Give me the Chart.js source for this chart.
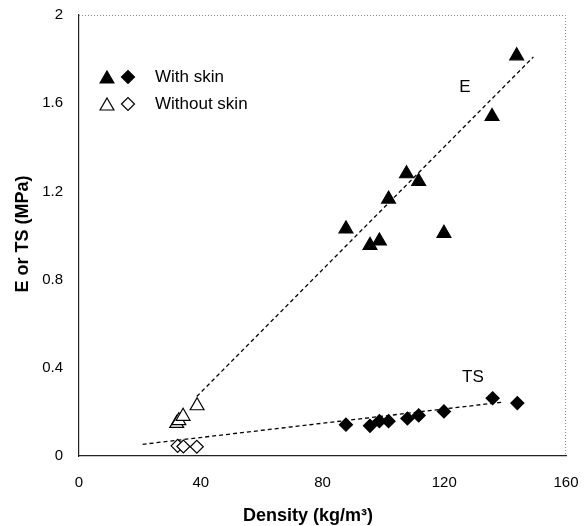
<!DOCTYPE html>
<html>
<head>
<meta charset="utf-8">
<script src="https://cdn.jsdelivr.net/npm/chart.js@4.4.1/dist/chart.umd.min.js"></script>
<style>
  html, body { margin: 0; padding: 0; background: #fff; }
  #wrap { width: 585px; height: 526px; }
</style>
</head>
<body>
<div id="wrap"><canvas id="densityChart" width="585" height="526"></canvas></div>
<script>
/* --- Data --- */
// E (modulus), with skin
const eSkinX = [87.7, 95.6, 98.7, 101.7, 107.6, 111.6, 119.9, 135.7, 143.8];
const eSkinY = [1.03, 0.955, 0.975, 1.165, 1.28, 1.245, 1.01, 1.54, 1.815];
// E, without skin
const eBareX = [32.1, 32.8, 34.2, 38.8];
const eBareY = [0.148, 0.16, 0.18, 0.228];
// TS (tensile strength), with skin
const tsSkinX = [87.7, 95.6, 98.7, 101.7, 107.9, 111.6, 119.9, 135.9, 144.0];
const tsSkinY = [0.142, 0.137, 0.158, 0.158, 0.17, 0.184, 0.202, 0.262, 0.24];
// TS, without skin
const tsBareX = [32.4, 34.3, 38.7];
const tsBareY = [0.046, 0.043, 0.042];
// dashed fit lines (end points)
const eFitX = [38.7, 149.3];
const eFitY = [0.27, 1.81];
const tsFitX = [20.9, 139.6];
const tsFitY = [0.053, 0.245];

const xTicks = [0, 40, 80, 120, 160];
const yTicks = [0, 0.4, 0.8, 1.2, 1.6, 2];

const xTitle = 'Density (kg/m\u00B3)';
const yTitle = 'E or TS (MPa)';
const legendRows = ['With skin', 'Without skin'];
const curveLabels = ['E', 'TS'];
const curveLabelX = [126.8, 129.4];
const curveLabelY = [1.673, 0.358];

const FONT = "'Liberation Sans', Arial, sans-serif";

function pts(xs, ys) {
    return xs.map((x, i) => ({ x: x, y: ys[i] }));
}

/* --- Decorations: frame, titles, legend, curve labels --- */
const decorPlugin = {
    id: 'decor',
    beforeDatasetsDraw(chart) {
        const { ctx, chartArea: a } = chart;
        ctx.save();
        // light dotted top / right edge of the frame
        ctx.strokeStyle = '#8a8a8a';
        ctx.lineWidth = 1;
        ctx.setLineDash([1, 2]);
        ctx.beginPath();
        ctx.moveTo(a.left, a.top + 0.5);
        ctx.lineTo(a.right - 0.5, a.top + 0.5);
        ctx.lineTo(a.right - 0.5, a.bottom);
        ctx.stroke();
        ctx.restore();
    },
    afterDraw(chart) {
        const { ctx, chartArea: a, scales } = chart;
        ctx.save();
        ctx.fillStyle = '#000';

        // axis titles
        ctx.font = 'bold 18px ' + FONT;
        ctx.textAlign = 'center';
        ctx.textBaseline = 'alphabetic';
        ctx.fillText(xTitle, 308, 521);
        ctx.save();
        ctx.translate(28, 234);
        ctx.rotate(-Math.PI / 2);
        ctx.fillText(yTitle, 0, 0);
        ctx.restore();

        // curve labels
        ctx.font = '17px ' + FONT;
        ctx.textBaseline = 'middle';
        curveLabels.forEach((t, i) => {
            ctx.fillText(t, scales.x.getPixelForValue(curveLabelX[i]),
                            scales.y.getPixelForValue(curveLabelY[i]));
        });

        // legend
        const rowY = [a.top + 62, a.top + 89];
        const triX = a.left + 28, diaX = a.left + 49, txtX = a.left + 76;
        const open = [false, true];
        rowY.forEach((y, i) => {
            ctx.lineWidth = 1.2;
            ctx.strokeStyle = '#000';
            ctx.fillStyle = open[i] ? '#fff' : '#000';
            Chart.helpers.drawPoint(ctx, { pointStyle: 'triangle', radius: 8, borderWidth: 1.2 }, triX, y + 2);
            ctx.fillStyle = open[i] ? '#fff' : '#000';
            Chart.helpers.drawPoint(ctx, { pointStyle: 'rectRot', radius: 6.5, borderWidth: 1.2 }, diaX, y);
            ctx.fillStyle = '#000';
            ctx.font = '17px ' + FONT;
            ctx.textAlign = 'left';
            ctx.textBaseline = 'middle';
            ctx.fillText(legendRows[i], txtX, y);
        });
        ctx.restore();
    }
};

const markerFilled = { backgroundColor: '#000', borderColor: '#000', borderWidth: 1.2 };
const markerOpen = { backgroundColor: '#fff', borderColor: '#000', borderWidth: 1.2 };

new Chart(document.getElementById('densityChart'), {
    type: 'scatter',
    data: {
        datasets: [
            {   // fit lines first so markers sit on top
                label: 'E fit', data: pts(eFitX, eFitY), showLine: true,
                borderColor: '#000', borderWidth: 1.3, borderDash: [4, 3],
                pointRadius: 0, order: 2
            },
            {
                label: 'TS fit', data: pts(tsFitX, tsFitY), showLine: true,
                borderColor: '#000', borderWidth: 1.3, borderDash: [4, 3],
                pointRadius: 0, order: 2
            },
            Object.assign({ label: 'E with skin', data: pts(eSkinX, eSkinY),
                pointStyle: 'triangle', pointRadius: 8, order: 1 }, markerFilled),
            Object.assign({ label: 'E without skin', data: pts(eBareX, eBareY),
                pointStyle: 'triangle', pointRadius: 8, order: 1 }, markerOpen),
            Object.assign({ label: 'TS with skin', data: pts(tsSkinX, tsSkinY),
                pointStyle: 'rectRot', pointRadius: 6.5, order: 1 }, markerFilled),
            Object.assign({ label: 'TS without skin', data: pts(tsBareX, tsBareY),
                pointStyle: 'rectRot', pointRadius: 6.5, order: 1 }, markerOpen)
        ]
    },
    options: {
        responsive: false,
        animation: false,
        events: [],
        layout: { padding: { top: 15, right: 19, left: 0, bottom: 0 } },
        plugins: {
            legend: { display: false },
            tooltip: { enabled: false }
        },
        scales: {
            x: {
                type: 'linear',
                min: xTicks[0], max: xTicks[xTicks.length - 1],
                afterBuildTicks: s => { s.ticks = xTicks.map(v => ({ value: v })); },
                afterFit: s => { s.height = 70; s.paddingLeft = 0; s.paddingRight = 0; },
                grid: { display: false, drawTicks: false },
                border: { display: true, color: '#222', width: 1.2 },
                ticks: { color: '#000', padding: 18, font: { family: FONT, size: 15 } }
            },
            y: {
                type: 'linear',
                min: yTicks[0], max: yTicks[yTicks.length - 1],
                afterBuildTicks: s => { s.ticks = yTicks.map(v => ({ value: v })); },
                afterFit: s => { s.width = 79; s.paddingTop = 0; s.paddingBottom = 0; },
                grid: { display: false, drawTicks: false },
                border: { display: true, color: '#222', width: 1.2 },
                ticks: {
                    color: '#000', padding: 16, font: { family: FONT, size: 15 },
                    callback: v => String(Math.round(v * 10) / 10)
                }
            }
        }
    },
    plugins: [decorPlugin]
});
</script>
</body>
</html>
